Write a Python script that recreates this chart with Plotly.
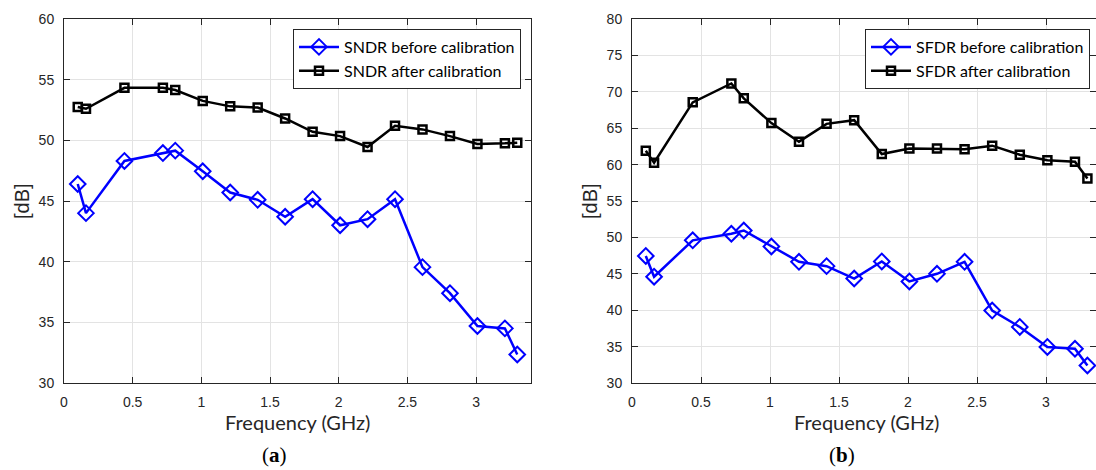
import plotly.graph_objects as go

# ---- data ----
freq = [0.1, 0.16, 0.44, 0.72, 0.81, 1.01, 1.21, 1.41, 1.61, 1.81, 2.01, 2.21, 2.41, 2.61, 2.81, 3.01, 3.21, 3.3]
sndr_before = [46.4, 44.0, 48.3, 48.95, 49.15, 47.45, 45.7, 45.1, 43.7, 45.15, 43.0, 43.5, 45.15, 39.55, 37.4, 34.7, 34.5, 32.35]
sndr_after = [52.75, 52.6, 54.33, 54.33, 54.15, 53.25, 52.8, 52.7, 51.8, 50.7, 50.35, 49.45, 51.2, 50.9, 50.35, 49.7, 49.75, 49.8]
sfdr_before = [47.45, 44.6, 49.6, 50.5, 50.95, 48.75, 46.65, 46.05, 44.35, 46.7, 43.95, 45.0, 46.65, 39.95, 37.7, 34.95, 34.7, 32.4]
sfdr_after = [61.9, 60.25, 68.55, 71.15, 69.1, 65.7, 63.15, 65.6, 66.1, 61.45, 62.2, 62.2, 62.1, 62.6, 61.35, 60.6, 60.4, 58.1]

left_ticks_y = [30, 35, 40, 45, 50, 55, 60]
right_ticks_y = [30, 35, 40, 45, 50, 55, 60, 65, 70, 75, 80]
ticks_x = [0, 0.5, 1, 1.5, 2, 2.5, 3]

W, H = 1096, 470
BLUE = "#0000ff"
BLACK = "#000000"

fig = go.Figure()

def add_series(x, y, name, color, symbol, msize, mlw, xa, ya, legend):
    fig.add_trace(go.Scatter(
        x=x, y=y, name=name, mode="lines+markers",
        line=dict(color=color, width=2.5),
        marker=dict(symbol=symbol, size=msize, color=color,
                    line=dict(color=color, width=mlw)),
        xaxis=xa, yaxis=ya, legend=legend))

add_series(freq, sndr_before, "SNDR before calibration", BLUE, "diamond-open", 12, 2, "x", "y", "legend")
add_series(freq, sndr_after, "SNDR after calibration", BLACK, "square-open", 8, 2.5, "x", "y", "legend")
add_series(freq, sfdr_before, "SFDR before calibration", BLUE, "diamond-open", 12, 2, "x2", "y2", "legend2")
add_series(freq, sfdr_after, "SFDR after calibration", BLACK, "square-open", 8, 2.5, "x2", "y2", "legend2")

top_px, bot_px = 19, 383
ydom = [1 - bot_px / H, 1 - top_px / H]
lx0, lx1 = 64, 531
rx0 = 632

tickfont = dict(family="Liberation Sans, Arial", size=14, color="#262626")
common_x = dict(tickmode="array", tickvals=ticks_x, ticktext=[f"{v:g}" for v in ticks_x],
                showgrid=True, gridcolor="#e3e3e3", gridwidth=1,
                showline=True, linecolor="#262626", linewidth=1, mirror="allticks",
                ticks="inside", ticklen=6, tickcolor="#262626", tickfont=tickfont,
                zeroline=False, ticklabelstandoff=6)
common_y = dict(showgrid=True, gridcolor="#e3e3e3", gridwidth=1,
                showline=True, linecolor="#262626", linewidth=1, mirror="allticks",
                ticks="inside", ticklen=6, tickcolor="#262626", tickfont=tickfont,
                zeroline=False, ticklabelstandoff=6)

legend_common = dict(bgcolor="white", bordercolor="#262626", borderwidth=1,
                     font=dict(family="Lato", size=16, color="#000000"),
                     itemwidth=40, tracegroupgap=0, yanchor="top", xanchor="right")

fig.update_layout(
    width=W, height=H, margin=dict(l=0, r=0, t=0, b=0, autoexpand=False),
    paper_bgcolor="white", plot_bgcolor="white",
    xaxis=dict(domain=[lx0 / W, lx1 / W], range=[0, 3.4], anchor="y", **common_x),
    yaxis=dict(domain=ydom, range=[30, 60], anchor="x", tickvals=left_ticks_y, **common_y),
    xaxis2=dict(domain=[rx0 / W, 1.0], range=[0, (W - rx0) / 138.0], anchor="y2", **common_x),
    yaxis2=dict(domain=ydom, range=[30, 80], anchor="x2", tickvals=right_ticks_y, **common_y),
    legend=dict(x=521 / W, y=1 - 29 / H, **legend_common),
    legend2=dict(x=1090 / W, y=1 - 29 / H, **legend_common),
    showlegend=True,
)

ann_font_title = dict(family="Lato", size=20, color="#262626")
ann_font_y = dict(family="Liberation Sans, Arial", size=20, color="#262626")
ann_font_lab = dict(family="Liberation Serif, DejaVu Serif", size=21, color="#000000")

annotations = [
    dict(text="Frequency (GHz)", x=(lx0 + lx1) / 2 / W, y=1 - 422 / H, font=ann_font_title),
    dict(text="Frequency (GHz)", x=(rx0 + (rx0 + 3.4 * 138)) / 2 / W, y=1 - 422 / H, font=ann_font_title),
    dict(text="[dB]", x=22 / W, y=1 - 201 / H, textangle=-90, font=ann_font_y),
    dict(text="[dB]", x=590 / W, y=1 - 201 / H, textangle=-90, font=ann_font_y),
    dict(text="(<b>a</b>)", x=274 / W, y=1 - 455 / H, font=ann_font_lab),
    dict(text="(<b>b</b>)", x=842 / W, y=1 - 455 / H, font=ann_font_lab),
]
for a in annotations:
    a.update(xref="paper", yref="paper", showarrow=False, xanchor="center", yanchor="middle")
fig.update_layout(annotations=annotations)

fig.write_html("out.html", config={"displayModeBar": False},
               post_script="document.body.style.margin='0';document.body.style.overflow='hidden';")
